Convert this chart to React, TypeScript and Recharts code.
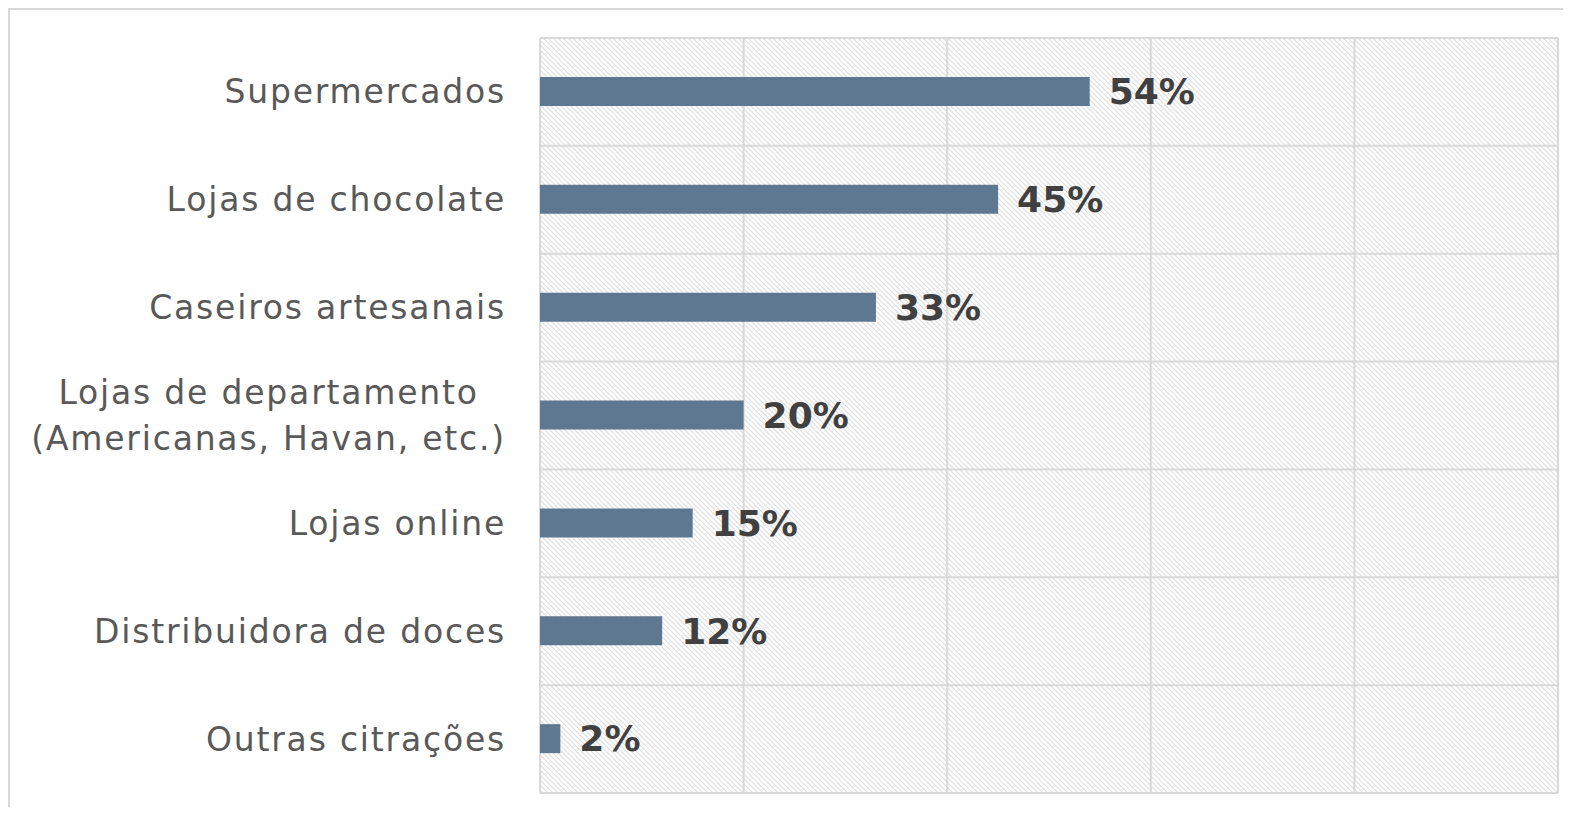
import React from "react";
import { BarChart, Bar, XAxis, YAxis, CartesianGrid, LabelList } from "recharts";

const categories = [
  "Supermercados",
  "Lojas de chocolate",
  "Caseiros artesanais",
  "Lojas de departamento\n(Americanas, Havan, etc.)",
  "Lojas online",
  "Distribuidora de doces",
  "Outras citrações",
];
const shares = [54, 45, 33, 20, 15, 12, 2];
const xTicks = [0, 20, 40, 60, 80, 100];

const data = categories.map((name, i) => ({ name, value: shares[i] }));

const CAT_FONT = "DejaVu Sans";
const CAT_SIZE = 33;
const CAT_SPACING = 1.8;

let measureCtx: CanvasRenderingContext2D | null = null;
function measure(text: string): number {
  if (!measureCtx) {
    const c = document.createElement("canvas");
    measureCtx = c.getContext("2d");
  }
  if (!measureCtx) return text.length * CAT_SIZE * 0.6;
  measureCtx.font = `${CAT_SIZE}px "${CAT_FONT}"`;
  return measureCtx.measureText(text).width + text.length * CAT_SPACING;
}

const CatTick = (props: any) => {
  const { x, y, payload } = props;
  const lines: string[] = String(payload.value).split("\n");
  const lh = 46;
  const widths = lines.map(measure);
  const maxW = Math.max(...widths);
  const cx = x - maxW / 2;
  return (
    <text
      fill="#595959"
      fontSize={CAT_SIZE}
      fontFamily={CAT_FONT}
      letterSpacing={CAT_SPACING}
      textAnchor={lines.length > 1 ? "middle" : "end"}
    >
      {lines.map((l, i) => (
        <tspan
          key={i}
          x={lines.length > 1 ? cx : x}
          y={y - ((lines.length - 1) * lh) / 2 + i * lh + 11.5}
        >
          {l}
        </tspan>
      ))}
    </text>
  );
};

const gridRows = ({ offset }: any) => {
  const n = categories.length;
  return Array.from({ length: n + 1 }, (_, i) => offset.top + (i * offset.height) / n);
};

export default function App() {
  return (
    <div style={{ position: "relative", width: 1555, height: 799 }}>
      <div
        style={{
          position: "absolute",
          left: 0,
          top: 0,
          width: 1563,
          height: 807,
          overflow: "hidden",
        }}
      >
        <div
          style={{
            position: "absolute",
            left: 0,
            top: 0,
            width: 2000,
            height: 1200,
            border: "2px solid #d9d9d9",
            boxSizing: "border-box",
          }}
        />
        <div style={{ position: "absolute", left: 0, top: 0 }}>
          <BarChart
            width={1555}
            height={799}
            data={data}
            layout="vertical"
            margin={{ top: 30, right: 5, bottom: 14, left: 0 }}
          >
            <defs>
              <pattern id="hatch" width="5" height="5" patternUnits="userSpaceOnUse">
                <rect width="5" height="5" fill="#ffffff" />
                <path d="M0,0 L5,5 M-1,4 L1,6 M4,-1 L6,1" stroke="#dedede" strokeWidth="1.2" />
              </pattern>
            </defs>
            <CartesianGrid
              fill="url(#hatch)"
              fillOpacity={1}
              stroke="#d9d9d9"
              strokeWidth={2}
              horizontalCoordinatesGenerator={gridRows}
            />
            <XAxis type="number" domain={[0, 100]} ticks={xTicks} hide />
            <YAxis
              type="category"
              dataKey="name"
              width={532}
              axisLine={false}
              tickLine={false}
              tickSize={0}
              tickMargin={34}
              tick={<CatTick />}
              interval={0}
            />
            <Bar dataKey="value" fill="#5e7891" barSize={29} isAnimationActive={false}>
              <LabelList
                dataKey="value"
                position="right"
                offset={19}
                formatter={(v: any) => `${v}%`}
                fill="#404040"
                fontSize={36}
                fontWeight="bold"
                fontFamily="DejaVu Sans"
              />
            </Bar>
          </BarChart>
        </div>
      </div>
    </div>
  );
}
